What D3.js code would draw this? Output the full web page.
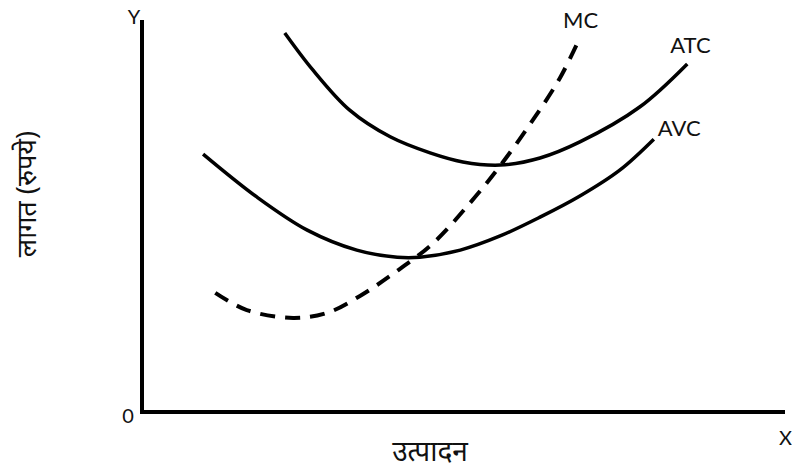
<!DOCTYPE html>
<html>
<head>
<meta charset="utf-8">
<script src="https://cdn.jsdelivr.net/npm/d3@7"></script>
<style>
  html, body { margin: 0; padding: 0; background: #fff; }
  svg text { font-family: Lato, "Open Sans", sans-serif; fill: #111; }
</style>
</head>
<body>
<div id="chart"></div>
<script>
// curve points (output, cost) on a 0-100 scale
const atcX = [22.2, 26.6, 32.3, 38.6, 44.8, 49.9, 55.7, 61.9, 68.1, 77.4, 84.8]
const atcY = [96.7, 87.2, 77.0, 70.2, 66.1, 63.8, 63.0, 64.8, 68.9, 77.8, 88.8]

const avcX = [9.5, 17.9, 25.7, 33.4, 39.7, 43.2, 49.5, 55.7, 61.9, 68.1, 74.3, 79.6]
const avcY = [65.8, 54.8, 46.4, 41.3, 39.5, 39.5, 41.3, 44.9, 49.7, 55.1, 61.7, 69.6]

const mcX = [11.4, 16.3, 23.5, 28.8, 33.9, 39.0, 45.3, 51.0, 55.7, 60.8, 65.0, 67.8]
const mcY = [30.4, 26.0, 24.0, 25.3, 29.6, 35.2, 43.1, 53.3, 62.8, 74.5, 85.2, 94.4]

const curveNames = ['MC', 'ATC', 'AVC']
const yTitle = 'लागत (रुपये)'
const xTitle = 'उत्पादन'

const width = 792
const height = 468

const svg = d3.select('#chart')
  .append('svg')
  .attr('width', width)
  .attr('height', height)

const x = d3.scaleLinear().domain([0, 100]).range([142, 785])
const y = d3.scaleLinear().domain([0, 100]).range([412, 20])

const line = d3.line()
  .x(d => x(d[0]))
  .y(d => y(d[1]))
  .curve(d3.curveCatmullRom.alpha(0.5))

const zip = (xs, ys) => xs.map((v, i) => [v, ys[i]])

const series = [
  { name: 'MC', pts: zip(mcX, mcY), dash: '15,10', w: 4 },
  { name: 'ATC', pts: zip(atcX, atcY), dash: null, w: 3.5 },
  { name: 'AVC', pts: zip(avcX, avcY), dash: null, w: 3.5 }
]

svg.append('g')
  .selectAll('path')
  .data(series)
  .join('path')
  .attr('d', d => line(d.pts))
  .attr('fill', 'none')
  .attr('stroke', '#000')
  .attr('stroke-width', d => d.w)
  .attr('stroke-dasharray', d => d.dash)

// axes
svg.append('line')
  .attr('x1', x(0)).attr('y1', y(0) + 2)
  .attr('x2', x(0)).attr('y2', y(100))
  .attr('stroke', '#000').attr('stroke-width', 4)

svg.append('line')
  .attr('x1', x(0) - 2).attr('y1', y(0))
  .attr('x2', x(100)).attr('y2', y(0))
  .attr('stroke', '#000').attr('stroke-width', 4)

svg.append('text').attr('x', x(0) - 8).attr('y', y(100) + 4)
  .attr('font-size', 20).attr('text-anchor', 'middle').text('Y')
svg.append('text').attr('x', x(0) - 14).attr('y', y(0) + 11)
  .attr('font-size', 20).attr('text-anchor', 'middle').text('0')
svg.append('text').attr('x', x(100) - 6).attr('y', y(0) + 33)
  .attr('font-size', 20).text('X')

// curve labels at the upper end of each curve
const labelPos = {
  MC: { x: x(mcX[mcX.length - 1]) - 15, y: 28 },
  ATC: { x: x(atcX[atcX.length - 1]) - 17, y: 53 },
  AVC: { x: x(avcX[avcX.length - 1]) + 4, y: 136 }
}

svg.append('g')
  .selectAll('text')
  .data(curveNames)
  .join('text')
  .attr('x', d => labelPos[d].x)
  .attr('y', d => labelPos[d].y)
  .attr('font-size', 22)
  .text(d => d)

svg.append('text')
  .attr('transform', 'translate(36,194) rotate(-90)')
  .attr('text-anchor', 'middle')
  .attr('font-size', 27)
  .style('font-family', '"Noto Sans", sans-serif')
  .text(yTitle)

svg.append('text')
  .attr('x', 430)
  .attr('y', 461)
  .attr('text-anchor', 'middle')
  .attr('font-size', 28)
  .style('font-family', '"Noto Sans", sans-serif')
  .text(xTitle)
</script>
</body>
</html>
